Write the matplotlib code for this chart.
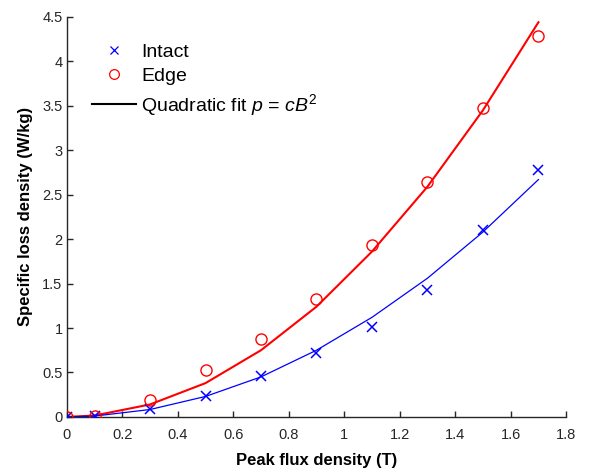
import matplotlib
matplotlib.use("Agg")
import matplotlib.pyplot as plt
from matplotlib.lines import Line2D

plt.rcParams['font.family'] = ['Liberation Sans', 'DejaVu Sans']
plt.rcParams['mathtext.fontset'] = 'custom'
plt.rcParams['mathtext.rm'] = 'Liberation Sans'
plt.rcParams['mathtext.it'] = 'Liberation Sans:italic'

B = [0, 0.1, 0.3, 0.5, 0.7, 0.9, 1.1, 1.3, 1.5, 1.7]
intact = [0, 0.005, 0.087, 0.24, 0.46, 0.72, 1.01, 1.43, 2.10, 2.78]
edge = [0, 0.01, 0.19, 0.53, 0.88, 1.33, 1.93, 2.64, 3.48, 4.29]
intact_fit = [0, 0.009, 0.083, 0.23, 0.45, 0.75, 1.12, 1.56, 2.08, 2.67]
edge_fit = [0, 0.015, 0.14, 0.38, 0.75, 1.24, 1.86, 2.59, 3.45, 4.44]

xticks = [0, 0.2, 0.4, 0.6, 0.8, 1, 1.2, 1.4, 1.6, 1.8]
xticklabels = ['0', '0.2', '0.4', '0.6', '0.8', '1', '1.2', '1.4', '1.6', '1.8']
yticks = [0, 0.5, 1, 1.5, 2, 2.5, 3, 3.5, 4, 4.5]
yticklabels = ['0', '0.5', '1', '1.5', '2', '2.5', '3', '3.5', '4', '4.5']

fig = plt.figure(figsize=(5.91, 4.70), dpi=100)
ax = fig.add_axes([0.113, 0.113, 0.845, 0.851])

ax.plot(B, edge_fit, color='red', lw=1.5, zorder=2)
ax.plot(B, intact_fit, color='blue', lw=0.9, zorder=2)
ax.plot(B, intact, linestyle='none', marker='x', color='blue', ms=7, mew=1.1, zorder=3)
ax.plot(B, edge, linestyle='none', marker='o', mfc='none', mec='red', ms=8, mew=1.0, zorder=3)

ax.set_xlim(0, 1.8)
ax.set_ylim(0, 4.5)
ax.set_xticks(xticks)
ax.set_xticklabels(xticklabels)
ax.set_yticks(yticks)
ax.set_yticklabels(yticklabels)
ax.tick_params(direction='in', length=4, width=1, labelsize=10.5, colors='#262626')
ax.tick_params(axis='x', pad=8)
ax.tick_params(axis='y', pad=3)
for s in ['top', 'right']:
    ax.spines[s].set_visible(False)
for s in ['left', 'bottom']:
    ax.spines[s].set_color('#262626')
    ax.spines[s].set_linewidth(1)

ax.set_xlabel('Peak flux density (T)', fontsize=12, fontweight='bold', labelpad=8)
ax.set_ylabel('Specific loss density (W/kg)', fontsize=12, fontweight='bold', labelpad=7)

handles = [
    Line2D([], [], linestyle='none', marker='x', color='blue', ms=6, mew=0.9),
    Line2D([], [], linestyle='none', marker='o', mfc='none', mec='red', ms=7, mew=0.9),
    Line2D([], [], color='black', lw=1.5),
]
labels = ['Intact', 'Edge', 'Quadratic fit $p$ = $cB^2$']
ax.legend(handles, labels, loc='upper left', bbox_to_anchor=(0.05, 0.935),
          frameon=False, fontsize=14, handlelength=2.3, handletextpad=0.25,
          labelspacing=0.35, borderaxespad=0, borderpad=0)

fig.savefig('out.png', dpi=100)
